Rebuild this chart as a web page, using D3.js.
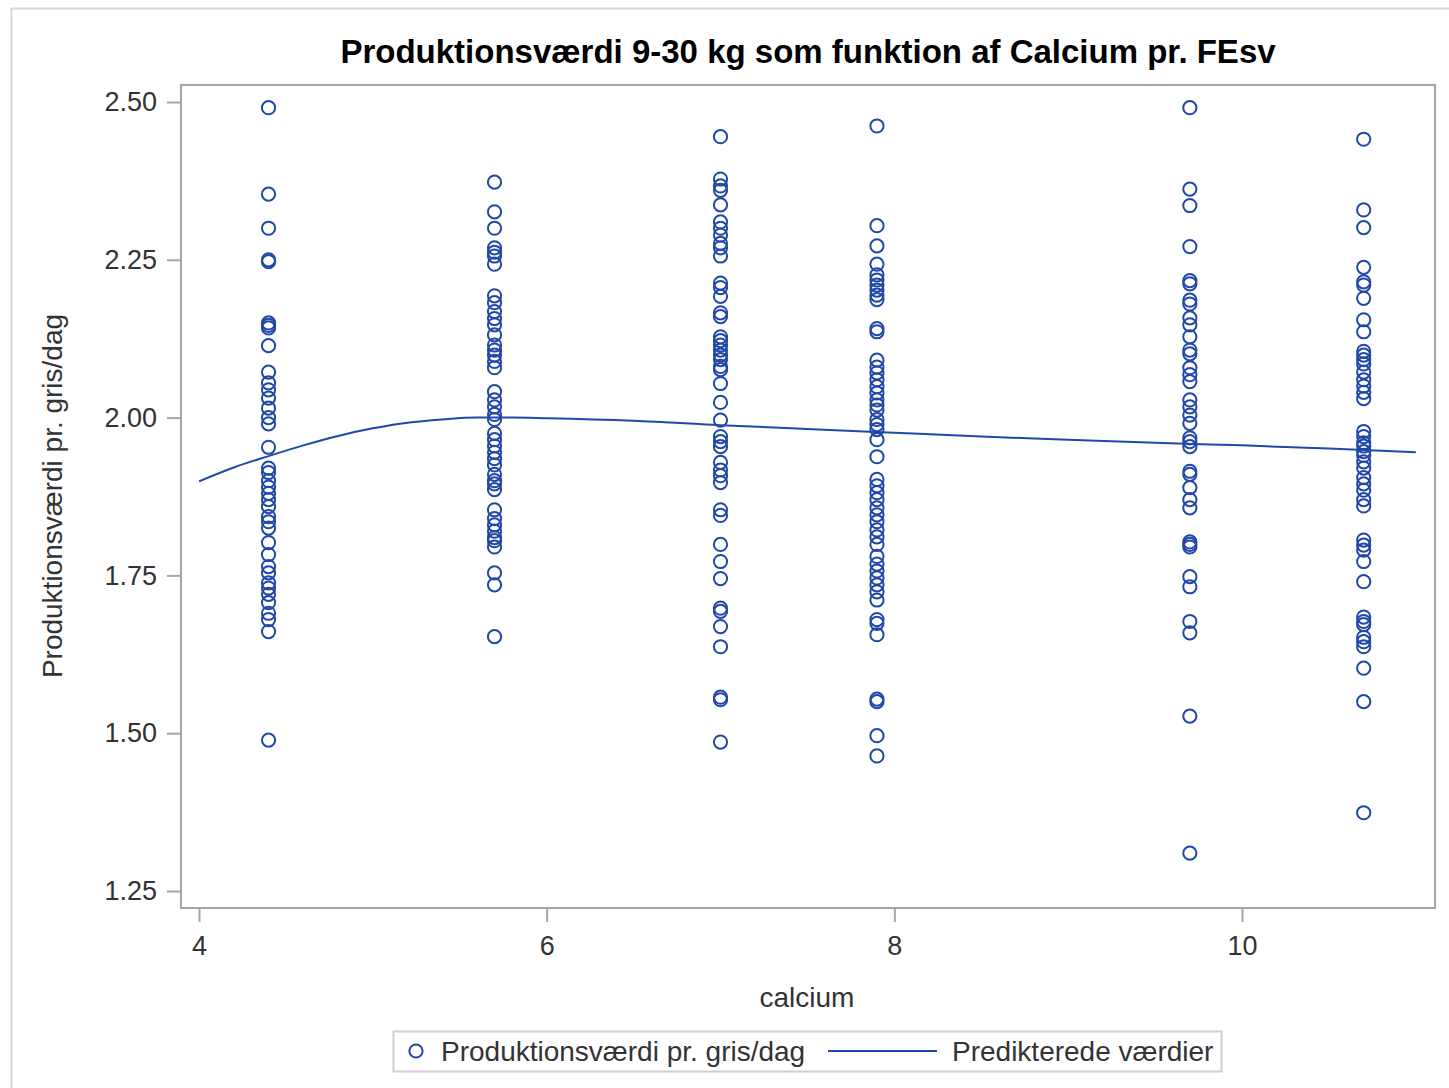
<!DOCTYPE html>
<meta charset="utf-8">
<style>
  body { margin: 0; background: #fff; }
  text { font-family: "Liberation Sans", Arial, sans-serif; }
  .axis text { fill: #333; font-size: 27px; }
  .axis line { stroke: #a3a7ab; stroke-width: 2px; }
  .axis path { display: none; }
</style>
<script src="https://d3js.org/d3.v7.min.js"></script>
<div id="chart"></div>
<script>

// calcium levels (x) and observed values per level
var calciumLevels = [4.4, 5.7, 7.0, 7.9, 9.7, 10.7];

var prod44 = [2.491, 2.354, 2.300, 2.250, 2.247, 2.150, 2.146, 2.142, 2.114, 2.072, 2.055, 2.044, 2.031, 2.015,
  2.000, 1.990, 1.953, 1.920, 1.913, 1.900, 1.890, 1.880, 1.870, 1.859, 1.843, 1.835, 1.825, 1.802, 1.783,
  1.764, 1.754, 1.738, 1.730, 1.720, 1.707, 1.690, 1.680, 1.661, 1.489];
var prod57 = [2.373, 2.326, 2.300, 2.269, 2.262, 2.256, 2.243, 2.193, 2.182, 2.168, 2.157, 2.147, 2.131, 2.115,
  2.107, 2.099, 2.089, 2.079, 2.041, 2.028, 2.017, 2.005, 1.997, 1.975, 1.965, 1.955, 1.945, 1.935, 1.925,
  1.910, 1.900, 1.895, 1.886, 1.854, 1.840, 1.830, 1.820, 1.810, 1.805, 1.795, 1.754, 1.735, 1.653];
var prod70 = [2.445, 2.378, 2.367, 2.360, 2.337, 2.310, 2.300, 2.289, 2.276, 2.269, 2.256, 2.213, 2.206, 2.192,
  2.166, 2.160, 2.128, 2.122, 2.115, 2.107, 2.099, 2.092, 2.081, 2.076, 2.054, 2.024, 1.996, 1.970, 1.962,
  1.954, 1.929, 1.917, 1.908, 1.897, 1.854, 1.845, 1.799, 1.772, 1.745, 1.698, 1.693, 1.669, 1.637, 1.557,
  1.553, 1.486];
var prod79 = [2.462, 2.304, 2.272, 2.243, 2.226, 2.218, 2.210, 2.202, 2.194, 2.187, 2.141, 2.136, 2.091, 2.080,
  2.071, 2.060, 2.049, 2.039, 2.028, 2.020, 2.012, 1.997, 1.989, 1.981, 1.965, 1.938, 1.902, 1.892, 1.881,
  1.870, 1.857, 1.846, 1.835, 1.822, 1.811, 1.799, 1.780, 1.768, 1.757, 1.746, 1.735, 1.724, 1.711, 1.680,
  1.674, 1.656, 1.554, 1.550, 1.496, 1.464];
var prod97 = [2.491, 2.362, 2.336, 2.271, 2.217, 2.212, 2.186, 2.180, 2.158, 2.147, 2.128, 2.107, 2.101, 2.079,
  2.068, 2.057, 2.028, 2.017, 2.004, 1.991, 1.968, 1.962, 1.954, 1.915, 1.910, 1.889, 1.870, 1.857, 1.803,
  1.799, 1.795, 1.748, 1.732, 1.677, 1.659, 1.527, 1.310];
var prod107 = [2.441, 2.329, 2.301, 2.238, 2.215, 2.210, 2.189, 2.155, 2.136, 2.105, 2.099, 2.092, 2.085, 2.072,
  2.060, 2.050, 2.040, 2.030, 1.978, 1.970, 1.960, 1.955, 1.946, 1.940, 1.930, 1.920, 1.905, 1.895, 1.885,
  1.870, 1.860, 1.806, 1.798, 1.790, 1.772, 1.740, 1.684, 1.677, 1.672, 1.652, 1.645, 1.637, 1.603, 1.550,
  1.374];

// predicted curve
var predCalcium = [4.0, 4.2, 4.4, 4.6, 4.8, 5.0, 5.2, 5.4, 5.6, 5.8, 6.0, 6.5, 7.0, 7.5, 8.0, 8.5, 9.0, 9.5, 10.0, 10.5, 11.0];
var predValue = [1.899, 1.921, 1.939, 1.956, 1.971, 1.983, 1.992, 1.997, 2.000, 2.000, 1.999, 1.995, 1.988, 1.982,
  1.976, 1.970, 1.965, 1.960, 1.956, 1.951, 1.945];

var xTicks = [4, 6, 8, 10];
var yTicks = [1.25, 1.50, 1.75, 2.00, 2.25, 2.50];

var blue = "#2148a8";

var svg = d3.select("#chart").append("svg")
  .attr("width", 1449)
  .attr("height", 1088);

// outer border
svg.append("rect")
  .attr("x", 11.5).attr("y", 8.5)
  .attr("width", 1460).attr("height", 1100)
  .attr("fill", "none").attr("stroke", "#d8d8d8").attr("stroke-width", 2);

var x = d3.scaleLinear().domain([4, 10]).range([199, 1242]);
var y = d3.scaleLinear().domain([1.25, 2.5]).range([891, 102]);

var frame = {left: 181, right: 1435, top: 85, bottom: 908};

// plot frame
svg.append("rect")
  .attr("x", frame.left).attr("y", frame.top)
  .attr("width", frame.right - frame.left).attr("height", frame.bottom - frame.top)
  .attr("fill", "none").attr("stroke", "#a3a7ab").attr("stroke-width", 2);

// axes
svg.append("g")
  .attr("class", "axis")
  .attr("transform", "translate(" + frame.left + ",0)")
  .call(d3.axisLeft(y).tickValues(yTicks).tickFormat(d3.format(".2f")).tickSize(14).tickPadding(10));

svg.append("g")
  .attr("class", "axis")
  .attr("transform", "translate(0," + frame.bottom + ")")
  .call(d3.axisBottom(x).tickValues(xTicks).tickFormat(d3.format("d")).tickSize(14).tickPadding(14));

// title & labels
svg.append("text")
  .attr("x", 808).attr("y", 63)
  .attr("text-anchor", "middle")
  .style("font-size", "33px").style("font-weight", "bold").style("fill", "#000")
  .text("Produktionsværdi 9-30 kg som funktion af Calcium pr. FEsv");

svg.append("text")
  .attr("x", 807).attr("y", 1007)
  .attr("text-anchor", "middle")
  .style("font-size", "28px").style("fill", "#333")
  .text("calcium");

svg.append("text")
  .attr("transform", "translate(62,496) rotate(-90)")
  .attr("text-anchor", "middle")
  .style("font-size", "28px").style("fill", "#333")
  .text("Produktionsværdi pr. gris/dag");

// scatter points
var points = [];
var groups = [prod44, prod57, prod70, prod79, prod97, prod107];
groups.forEach(function (vals, i) {
  vals.forEach(function (v) { points.push({ c: calciumLevels[i], v: v }); });
});

svg.append("g").selectAll("circle")
  .data(points)
  .enter().append("circle")
    .attr("cx", function (d) { return x(d.c); })
    .attr("cy", function (d) { return y(d.v); })
    .attr("r", 6.6)
    .attr("fill", "none")
    .attr("stroke", blue)
    .attr("stroke-width", 2);

// predicted line
var pred = predCalcium.map(function (c, i) { return { c: c, v: predValue[i] }; });
svg.append("path")
  .datum(pred)
  .attr("fill", "none")
  .attr("stroke", blue)
  .attr("stroke-width", 2)
  .attr("d", d3.line()
    .x(function (d) { return x(d.c); })
    .y(function (d) { return y(d.v); })
    .curve(d3.curveMonotoneX));

// legend
var lg = svg.append("g");
lg.append("rect")
  .attr("x", 393.5).attr("y", 1031.5)
  .attr("width", 828).attr("height", 40)
  .attr("fill", "#fff").attr("stroke", "#cfcfcf").attr("stroke-width", 2);
lg.append("circle")
  .attr("cx", 416).attr("cy", 1051).attr("r", 6.6)
  .attr("fill", "none").attr("stroke", blue).attr("stroke-width", 2);
lg.append("text")
  .attr("x", 441).attr("y", 1061)
  .style("font-size", "28px").style("fill", "#333")
  .text("Produktionsværdi pr. gris/dag");
lg.append("line")
  .attr("x1", 828).attr("x2", 937).attr("y1", 1051).attr("y2", 1051)
  .attr("stroke", blue).attr("stroke-width", 2);
lg.append("text")
  .attr("x", 952).attr("y", 1061)
  .style("font-size", "28px").style("fill", "#333")
  .text("Predikterede værdier");

</script>
